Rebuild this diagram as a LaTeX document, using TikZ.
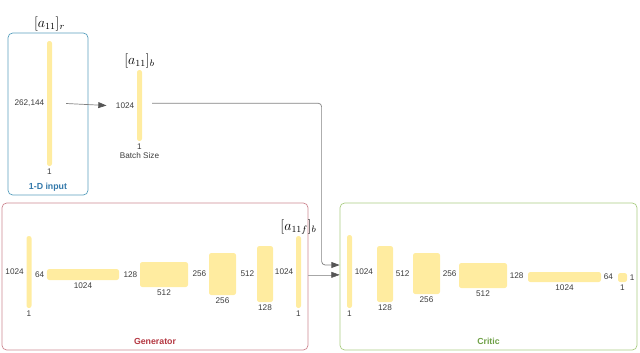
\documentclass[tikz,border=0pt]{standalone}
\usepackage{amsmath}
\usepackage{fontspec}
\setmainfont{Liberation Sans}
\usepackage{xcolor}
\usetikzlibrary{arrows.meta, positioning, calc}

\definecolor{barfill}{RGB}{255,236,160}
\definecolor{inblue}{RGB}{90,160,190}
\definecolor{inbluetxt}{RGB}{50,120,170}
\definecolor{genred}{RGB}{205,135,145}
\definecolor{genredtxt}{RGB}{180,55,65}
\definecolor{critgreen}{RGB}{170,205,130}
\definecolor{critgreentxt}{RGB}{110,160,70}
\definecolor{txtgray}{RGB}{60,60,60}
\definecolor{linegray}{RGB}{130,130,130}
\definecolor{tipgray}{RGB}{85,85,85}

\begin{document}
\begin{tikzpicture}[
  x=0.03cm, y=-0.03cm,
  every node/.style={font=\fontsize{7}{8}\selectfont, text=txtgray},
  blk/.style={rectangle, rounded corners=2pt, fill=barfill, inner sep=0pt},
  grp/.style={rectangle, rounded corners=4pt, line width=0.6pt, inner sep=0pt},
  grplab/.style={font=\fontsize{7.5}{8}\selectfont\bfseries, inner sep=1pt},
  lab/.style={inner sep=1pt},
  mlab/.style={font=\large, text=black, inner sep=0pt},
  arr/.style={-{Triangle[length=7pt,width=5pt,color=tipgray]}, linegray, line width=0.6pt},
]
\useasboundingbox (0,0) rectangle (640,352);

% Groups
\node[grp, draw=inblue, minimum width=2.4cm, minimum height=4.86cm] (inbox) at (48,114) {};
\node[grp, draw=genred, minimum width=9.18cm, minimum height=4.41cm] (gen) at (155,276.5) {};
\node[grp, draw=critgreen, minimum width=8.91cm, minimum height=4.41cm] (crit) at (488.5,276.5) {};
\node[grplab, text=inbluetxt, above=2pt of inbox.south] (inlab) {1-D input};
\node[grplab, text=genredtxt, above=4pt of gen.south] (genlab) {Generator};
\node[grplab, text=critgreentxt, above=4pt of crit.south] (critlab) {Critic};

% Input and batch
\node[blk, minimum width=0.15cm, minimum height=3.75cm] (inbar) at (49.5,103.5) {};
\node[lab, left=1pt of inbar] (inw) {262,144};
\node[lab, below=1pt of inbar] (inh) {1};
\node[mlab, above=0.28cm of inbar] (intit) {$[a_{11}]_r$};

\node[blk, minimum width=0.15cm, minimum height=2.13cm] (bbar) at (139.5,105.5) {};
\node[lab, left=1pt of bbar] (bw) {1024};
\node[lab, below=1pt of bbar] (bh) {1};
\node[lab, below=0pt of bh] (bsz) {Batch Size};
\node[mlab, above=1pt of bbar] (btit) {$[a_{11}]_b$};

% Generator
\node[blk, minimum width=0.15cm, minimum height=2.16cm] (g1) at (29,272) {};
\node[blk, minimum width=2.16cm, minimum height=0.33cm] (g2) at (83,274.5) {};
\node[blk, minimum width=1.44cm, minimum height=0.75cm] (g3) at (164,274.5) {};
\node[blk, minimum width=0.81cm, minimum height=1.26cm] (g4) at (222.5,274) {};
\node[blk, minimum width=0.48cm, minimum height=1.68cm] (g5) at (265,274) {};
\node[blk, minimum width=0.15cm, minimum height=2.16cm] (g6) at (298.5,272) {};
\node[lab, left=1pt of g1] {1024};  \node[lab, below=1pt of g1] {1};
\node[lab, left=1pt of g2] {64};    \node[lab, below=1pt of g2] {1024};
\node[lab, left=1pt of g3] {128};   \node[lab, below=1pt of g3] {512};
\node[lab, left=1pt of g4] {256};   \node[lab, below=1pt of g4] {256};
\node[lab, left=1pt of g5] {512};   \node[lab, below=1pt of g5] {128};
\node[lab, left=1pt of g6] {1024};  \node[lab, below=1pt of g6] {1};
\node[mlab, above=1pt of g6] (gtit) {$[a_{11f}]_b$};

% Critic
\node[blk, minimum width=0.15cm, minimum height=2.19cm] (c1) at (349.5,271.5) {};
\node[blk, minimum width=0.48cm, minimum height=1.68cm] (c2) at (385,274) {};
\node[blk, minimum width=0.81cm, minimum height=1.23cm] (c3) at (426.5,273.5) {};
\node[blk, minimum width=1.44cm, minimum height=0.75cm] (c4) at (483,275.5) {};
\node[blk, minimum width=2.19cm, minimum height=0.30cm] (c5) at (564.5,277) {};
\node[blk, minimum width=0.27cm, minimum height=0.27cm] (c6) at (622.5,277.5) {};
\node[lab, right=1pt of c1] {1024};  \node[lab, below=1pt of c1] {1};
\node[lab, right=1pt of c2] {512};   \node[lab, below=1pt of c2] {128};
\node[lab, right=1pt of c3] {256};   \node[lab, below=1pt of c3] {256};
\node[lab, right=1pt of c4] {128};   \node[lab, below=1pt of c4] {512};
\node[lab, right=1pt of c5] {64};    \node[lab, below=1pt of c5] {1024};
\node[lab, right=1pt of c6] {1};     \node[lab, below=1pt of c6] {1};

% Connectors
\draw[arr] ([xshift=0.42cm]inbar.east) -- ([xshift=-0.24cm]bw.west);
\draw[arr, rounded corners=3pt] ([xshift=0.3cm,yshift=0.07cm]bbar.east)
  -| ([xshift=-0.54cm,yshift=0.345cm]crit.west) -- ([yshift=0.345cm]crit.west);
\draw[arr, line width=0.4pt, draw=linegray!70] ([yshift=0.05cm]gen.east) -- ([yshift=0.05cm]crit.west);
\end{tikzpicture}
\end{document}
